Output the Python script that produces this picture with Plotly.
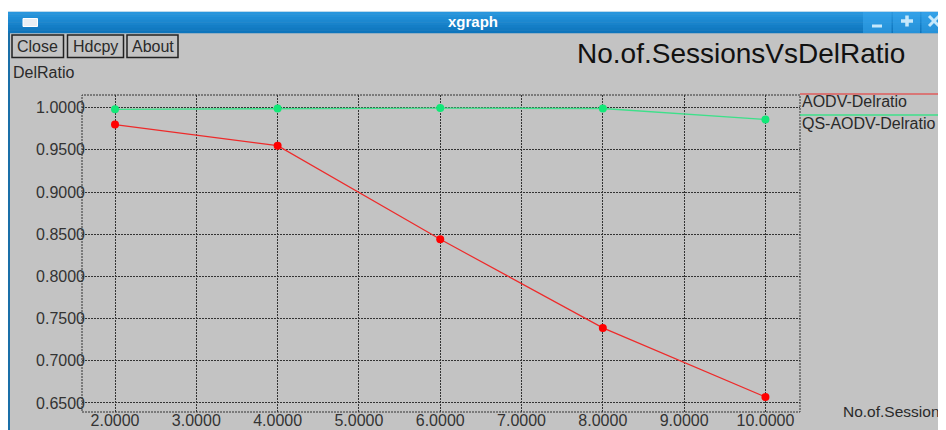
import plotly.graph_objects as go

# ---- data ----
sessions = [2, 4, 6, 8, 10]
aodv_delratio = [0.980, 0.955, 0.844, 0.739, 0.657]
qs_aodv_delratio = [0.998, 0.999, 0.9995, 0.999, 0.986]
x_ticks = [2, 3, 4, 5, 6, 7, 8, 9, 10]
y_ticks = [0.65, 0.70, 0.75, 0.80, 0.85, 0.90, 0.95, 1.00]
series_names = ["AODV-Delratio", "QS-AODV-Delratio"]

# page has an 8px body margin; figure is sized to fit the 946x430 window
OFF = 8
W, H = 946 - OFF, 430 - OFF
L, R, T, B = 74, 146, 87, 18
PW, PH = W - L - R, H - T - B

def px(x):  # x in window pixels -> paper
    return (x - OFF - L) / PW

def py(y):  # y in window pixels -> paper
    return (H - B - (y - OFF)) / PH

BG = "#c3c3c3"
FONT = "Liberation Sans, Arial, sans-serif"
RED_LINE = "#ee2a2a"
GREEN_LINE = "#3ee08a"

fig = go.Figure()
fig.add_trace(go.Scatter(
    x=sessions, y=aodv_delratio, mode="lines+markers", name=series_names[0],
    line=dict(color=RED_LINE, width=1.2),
    marker=dict(color="#ff0000", size=8),
))
fig.add_trace(go.Scatter(
    x=sessions, y=qs_aodv_delratio, mode="lines+markers", name=series_names[1],
    line=dict(color=GREEN_LINE, width=1.4),
    marker=dict(color="#12e878", size=8),
))

shapes = []
def rect(x0, x1, y0, y1, fill, line=None, opacity=1):
    shapes.append(dict(type="rect", xref="paper", yref="paper",
                       x0=px(x0), x1=px(x1), y0=py(y1), y1=py(y0),
                       fillcolor=fill, opacity=opacity,
                       line=line or dict(width=0), layer="above"))

def seg(x0, y0, x1, y1, color, width, dash=None):
    ln = dict(color=color, width=width)
    if dash:
        ln["dash"] = dash
    shapes.append(dict(type="line", xref="paper", yref="paper",
                       x0=px(x0), x1=px(x1), y0=py(y0), y1=py(y1),
                       line=ln, layer="above"))

# white strip above the window
rect(0, 946, -2, 11.7, "#ffffff")
# title bar (vertical gradient approximation)
bar_top, bar_bot = 11.7, 33
cols = ["#2896dd", "#2492d9", "#208dd5", "#1c88d0", "#1883cb", "#147ec6", "#117ac1", "#0e75bc"]
n = len(cols)
for i in range(n):
    y0 = bar_top + (bar_bot - bar_top) * i / n
    y1 = bar_top + (bar_bot - bar_top) * (i + 1) / n
    rect(7, 950, y0, y1 + 0.3, cols[i])
# window control buttons (lighter)
for (a, b) in [(863, 891.5), (893, 920), (921.5, 950)]:
    rect(a, b, 12, 33, "#3aaaf0", opacity=0.55)
# control glyphs
seg(872, 26, 882, 26, "#c6e8fb", 3)
seg(901, 21, 913, 21, "#c6e8fb", 3.5)
seg(907, 15.5, 907, 26.5, "#c6e8fb", 3.5)
seg(929, 16, 939, 26, "#c6e8fb", 3)
seg(929, 26, 939, 16, "#c6e8fb", 3)
# top-left icon
rect(23, 37.5, 18.5, 26.5, "#e8eef4", line=dict(color="#ffffff", width=1))
# left window border
rect(7, 10, 33, 440, "#1a6fa8")
# buttons
buttons = [("Close", 12, 63.5), ("Hdcpy", 67.5, 123.5), ("About", 127, 178)]
for _, a, b in buttons:
    rect(a, b, 35, 57.5, "rgba(0,0,0,0)", line=dict(color="#222222", width=1.5))
# plot border (dotted)
shapes.append(dict(type="rect", xref="paper", yref="paper", x0=0, x1=1, y0=0, y1=1,
                   line=dict(color="#333333", width=1, dash="2px,1px"), layer="above"))
# legend lines
seg(800, 94, 950, 94, RED_LINE, 1.2)
seg(800, 115, 950, 115, GREEN_LINE, 1.4)

ann = []
def text(t, x, y, size, color="#222222", xanchor="left", bold=False):
    ann.append(dict(text=("<b>%s</b>" % t) if bold else t, x=px(x), y=py(y),
                    xref="paper", yref="paper", xanchor=xanchor, yanchor="middle",
                    showarrow=False, font=dict(family=FONT, size=size, color=color)))

text("xgraph", 473, 21.5, 15, "#ffffff", "center", bold=True)
for name, a, b in buttons:
    text(name, (a + b) / 2, 46.5, 16, "#2a2a2a", "center")
text("No.of.SessionsVsDelRatio", 741, 54, 28, "#111111", "center")
text("DelRatio", 11, 72.5, 16, "#2a2a2a")
text(series_names[0], 800, 102, 16, "#2a2a2a")
text(series_names[1], 800, 123, 16, "#2a2a2a")
text("No.of.Session", 841, 411, 15.5, "#2a2a2a")

fig.update_layout(
    width=W, height=H, autosize=False,
    margin=dict(l=L, r=R, t=T, b=B, pad=0),
    paper_bgcolor=BG, plot_bgcolor=BG,
    showlegend=False,
    shapes=shapes, annotations=ann,
    font=dict(family=FONT, size=16, color="#333333"),
)
fig.update_xaxes(
    range=[1.594, 10.425], tickvals=x_ticks, tickformat=".4f", automargin=False,
    showgrid=True, gridcolor="#333333", gridwidth=1, griddash="2px,1px",
    zeroline=False, showline=False, ticks="", ticklabelstandoff=-3,
    tickfont=dict(family=FONT, size=16, color="#333333"),
)
fig.update_yaxes(
    range=[0.6393, 1.015], tickvals=y_ticks, tickformat=".4f", automargin=False,
    showgrid=True, gridcolor="#333333", gridwidth=1, griddash="2px,1px",
    zeroline=False, showline=False, ticks="", ticklabelstandoff=-4,
    tickfont=dict(family=FONT, size=16, color="#333333"),
)

fig.write_html("out.html")
